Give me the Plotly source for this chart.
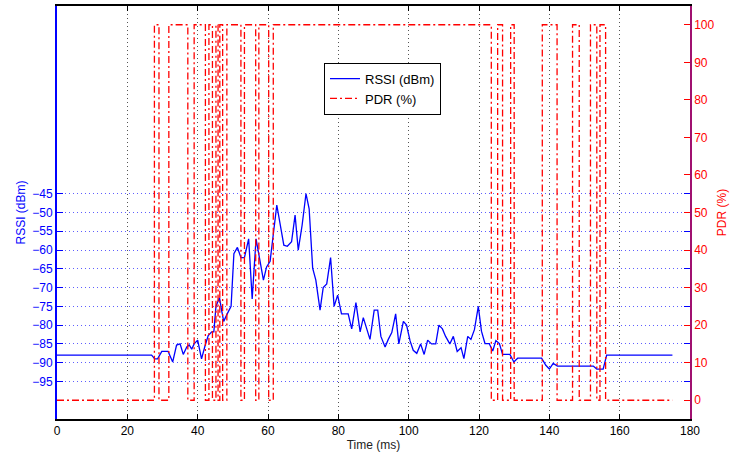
import plotly.graph_objects as go

# RSSI trace (time in ms, RSSI in dBm)
t_rssi = [0, 26.9, 27.8, 28.6, 29.8, 31.6, 32.9, 34.0, 35.0, 35.9, 36.9, 37.6, 38.3, 39.0,
          40.0, 41.1, 42.1, 43.0, 44.0, 44.6, 45.2, 46.2, 46.8, 47.4, 48.4, 49.5, 50.3,
          51.3, 52.3, 53.3, 54.5, 55.5, 56.6, 57.7, 58.7, 59.6, 60.6, 62.5, 63.4, 63.9,
          64.5, 65.5, 66.7, 67.7, 68.6, 69.7, 70.8, 71.7, 72.7, 73.6, 74.8, 75.7, 76.7,
          77.8, 78.8, 79.8, 80.9, 82.8, 83.8, 85.0, 86.2, 87.1, 89.0, 90.2, 91.2, 92.1,
          93.3, 94.2, 95.2, 96.3, 97.2, 98.5, 99.4, 100.4, 101.3, 102.3, 103.4, 104.4,
          105.4, 106.5, 107.7, 108.6, 109.6, 110.5, 111.7, 112.7, 113.8, 114.9, 115.7,
          116.8, 117.7, 118.7, 119.8, 120.7, 121.7, 122.9, 123.9, 124.8, 125.8, 126.7,
          128.8, 129.9, 131.0, 137.8, 139.0, 140.0, 141.1, 142.3, 152.5, 153.5, 155.3,
          156.3, 175.0]
rssi = [-88, -88, -89, -89, -87, -87, -89.8, -85.3, -85, -87.8, -85.8, -85.3, -86.4, -85,
        -84, -89, -85.5, -82.8, -81.8, -81.8, -75, -72.7, -76, -79, -77, -75, -61,
        -59.3, -62, -62, -57, -73, -57, -63, -68, -64.5, -63, -48, -52.5, -55,
        -58.7, -59, -57.8, -50.7, -60, -53.4, -45, -49, -64.8, -68, -76, -70, -69,
        -62, -75, -72, -77, -77, -81, -74, -81.8, -78, -83.8, -76, -76, -83,
        -85.8, -83.8, -82, -77, -85, -79, -80, -84.2, -86.7, -87.5, -85, -87.8,
        -84, -85, -85, -80, -81, -83, -85, -83, -87, -86, -88.9,
        -83, -83.8, -81.2, -75, -81.6, -84.9, -84.9, -86.9, -84.1, -84.9, -87.8,
        -87.8, -89.8, -88.8, -88.8, -90.7, -91.7, -90.2, -90.9, -90.9, -91.7, -91.7,
        -88, -88]

# PDR trace: level changes (time in ms, PDR in %)
t_pdr = [0, 27.7, 29.0, 31.8, 37.2, 39.0, 42.2, 43.2, 44.2, 45.2, 45.8, 46.3, 47.1,
         48.3, 52.3, 53.3, 56.5, 57.4, 60.2, 61.5, 123.5, 125.3, 126.7, 129.0, 130.0,
         138.0, 142.2, 146.6, 148.5, 151.7, 153.5, 154.4, 156.0, 175.0]
pdr = [0, 100, 0, 100, 0, 100, 0, 100, 0, 100, 0, 100, 0,
       100, 0, 100, 0, 100, 0, 100, 0, 100, 0, 100, 0,
       100, 0, 100, 0, 100, 0, 100, 0, 0]

x_ticks = [0, 20, 40, 60, 80, 100, 120, 140, 160, 180]
rssi_ticks = [-95, -90, -85, -80, -75, -70, -65, -60, -55, -50, -45]
pdr_ticks = [0, 10, 20, 30, 40, 50, 60, 70, 80, 90, 100]

BLUE = "#0000ff"
RED = "#ff0000"
FONT = "Liberation Sans, Arial, sans-serif"

fig = go.Figure()
fig.add_trace(go.Scatter(
    x=t_rssi, y=rssi, name="RSSI (dBm)", mode="lines",
    line=dict(color=BLUE, width=1.3), yaxis="y"))
fig.add_trace(go.Scatter(
    x=t_pdr, y=pdr, name="PDR (%)", mode="lines",
    line=dict(color=RED, width=1.3, dash="7px,3px,2px,3px", shape="hv"),
    yaxis="y2"))

fig.update_layout(
    width=731, height=457,
    margin=dict(l=57, r=41, t=4, b=38),
    paper_bgcolor="white", plot_bgcolor="white",
    font=dict(family=FONT, size=12, color="black"),
    showlegend=True,
    legend=dict(x=0.4218, y=0.80, xanchor="left", yanchor="middle",
                bgcolor="white", bordercolor="black", borderwidth=1,
                itemwidth=30, tracegroupgap=0,
                font=dict(size=13, color="black")),
    xaxis=dict(
        range=[0, 180], tickvals=x_ticks, ticks="inside", ticklen=5,
        tickcolor="black", showline=True, linecolor="black", linewidth=1.5,
        mirror="ticks", showgrid=True, gridcolor="#555555", gridwidth=1,
        griddash="1px,3px", zeroline=False,
        tickfont=dict(size=12, color="black"),
        title=dict(text="Time (ms)", font=dict(size=12, color="#222222"), standoff=3),
    ),
    yaxis=dict(
        range=[-105, 5], tickvals=rssi_ticks, ticks="inside", ticklen=6,
        tickcolor=BLUE, showline=True, linecolor=BLUE, linewidth=2,
        mirror="ticks", showgrid=True, gridcolor="rgba(40,40,255,0.75)",
        gridwidth=1, griddash="1px,3px", zeroline=False,
        tickfont=dict(size=12, color=BLUE),
        title=dict(text="RSSI (dBm)", font=dict(size=12, color=BLUE), standoff=4),
    ),
    yaxis2=dict(
        range=[-5, 105], tickvals=pdr_ticks, ticks="inside", ticklen=6,
        tickcolor=RED, showline=True, linecolor="#a01070", linewidth=1.5,
        overlaying="y", side="right", showgrid=False, zeroline=False,
        tickfont=dict(size=12, color=RED),
        title=dict(text="PDR (%)", font=dict(size=12, color=RED), standoff=4),
    ),
)

fig.write_html("out.html")
